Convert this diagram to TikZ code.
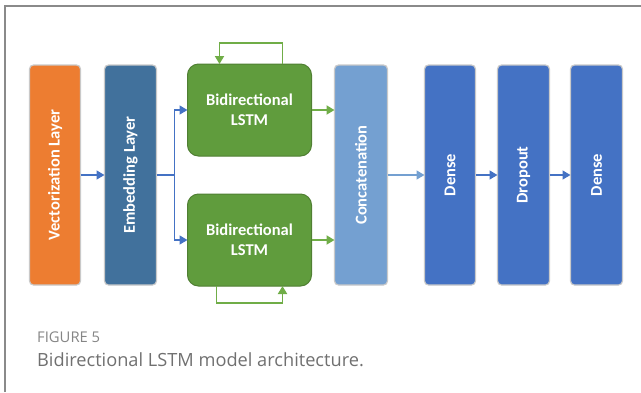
\documentclass[tikz,border=0pt]{standalone}
\usepackage{fontspec}
\setsansfont{Carlito}
\newfontfamily\capfont{Open Sans}
\usetikzlibrary{arrows.meta,positioning}
\definecolor{orng}{HTML}{ED7D31}
\definecolor{steel}{HTML}{41719C}
\definecolor{leaf}{HTML}{609C3D}
\definecolor{leafdark}{HTML}{507F33}
\definecolor{leafline}{HTML}{70AD47}
\definecolor{sky}{HTML}{74A0D1}
\definecolor{royal}{HTML}{4472C4}
\definecolor{rim}{HTML}{C9C9C9}
\definecolor{framegray}{HTML}{8A8A8A}
\definecolor{numgray}{HTML}{858585}
\definecolor{capgray}{HTML}{707070}
\tikzset{tallbox/.style={draw=rim,line width=1.2pt,rounded corners=4pt,minimum width=52pt,minimum height=220pt,inner sep=0pt,outer sep=0pt,text=white,font=\sffamily\bfseries\fontsize{16.5}{20}\selectfont},lstmbox/.style={draw=leafdark,fill=leaf,line width=1pt,rounded corners=11pt,minimum width=124pt,minimum height=92pt,outer sep=0pt,align=center,text=white,font=\sffamily\bfseries\fontsize{16.5}{20}\selectfont},arr/.style={-{Triangle[length=8pt,width=9pt]},line width=1.6pt,draw=royal},garr/.style={arr,line width=1.8pt,draw=leafline},carr/.style={arr,draw=sky}}

\begin{document}
\begin{tikzpicture}[x=1pt,y=-1pt]
\useasboundingbox (0,0) rectangle (641,392);
\draw[framegray,line width=1.5pt] (5,392) -- (5,6) -- (641,6);
% input side
\node[tallbox,fill=orng,minimum width=51pt] (vecl) at (55,175) {\rotatebox{90}{Vectorization Layer}};
\node[tallbox,fill=steel,right=24pt of vecl] (embl) {\rotatebox{90}{Embedding Layer}};
\coordinate[right=18pt of embl.east] (split);
% the two recurrent branches
\node[lstmbox,right=31pt of embl,yshift=65pt] (lstmtop) {Bidirectional\\LSTM};
\node[lstmbox,right=31pt of embl,yshift=-65pt] (lstmbot) {Bidirectional\\LSTM};
\coordinate (merge) at (lstmtop.east |- embl.east);
% head
\node[tallbox,fill=sky,minimum width=53pt,right=23pt of merge] (concat) {\rotatebox{90}{Concatenation}};
\node[tallbox,fill=royal,minimum width=51pt,right=37pt of concat] (dense1) {\rotatebox{90}{Dense}};
\node[tallbox,fill=royal,right=22pt of dense1] (drop) {\rotatebox{90}{Dropout}};
\node[tallbox,fill=royal,right=21pt of drop] (dense2) {\rotatebox{90}{Dense}};
\draw[arr] (vecl) -- (embl);
\draw[arr,-] (embl) -- (split);
\draw[arr] (split) |- (lstmtop);
\draw[arr] (split) |- (lstmbot);
\draw[garr] ([xshift=33pt]lstmtop.north) -- ++(0,-21) -| ([xshift=-30pt]lstmtop.north);
\draw[garr] ([xshift=-33pt]lstmbot.south) -- ++(0,17) -| ([xshift=33pt]lstmbot.south);
\draw[garr] (lstmtop) -- (lstmtop -| concat.west);
\draw[garr] (lstmbot) -- (lstmbot -| concat.west);
\draw[carr] (concat) -- (dense1);
\draw[arr] (dense1) -- (drop);
\draw[arr] (drop) -- (dense2);
% caption
\node[anchor=base west,inner sep=0pt,text=numgray,font=\capfont\fontsize{14.8}{17}\selectfont] (fignum) at (37,342) {FIGURE 5};
\node[anchor=base west,inner sep=0pt,text=capgray,font=\capfont\fontsize{18.2}{22}\selectfont] (figcap) at (37,366) {Bidirectional LSTM model architecture.};
\end{tikzpicture}
\end{document}
